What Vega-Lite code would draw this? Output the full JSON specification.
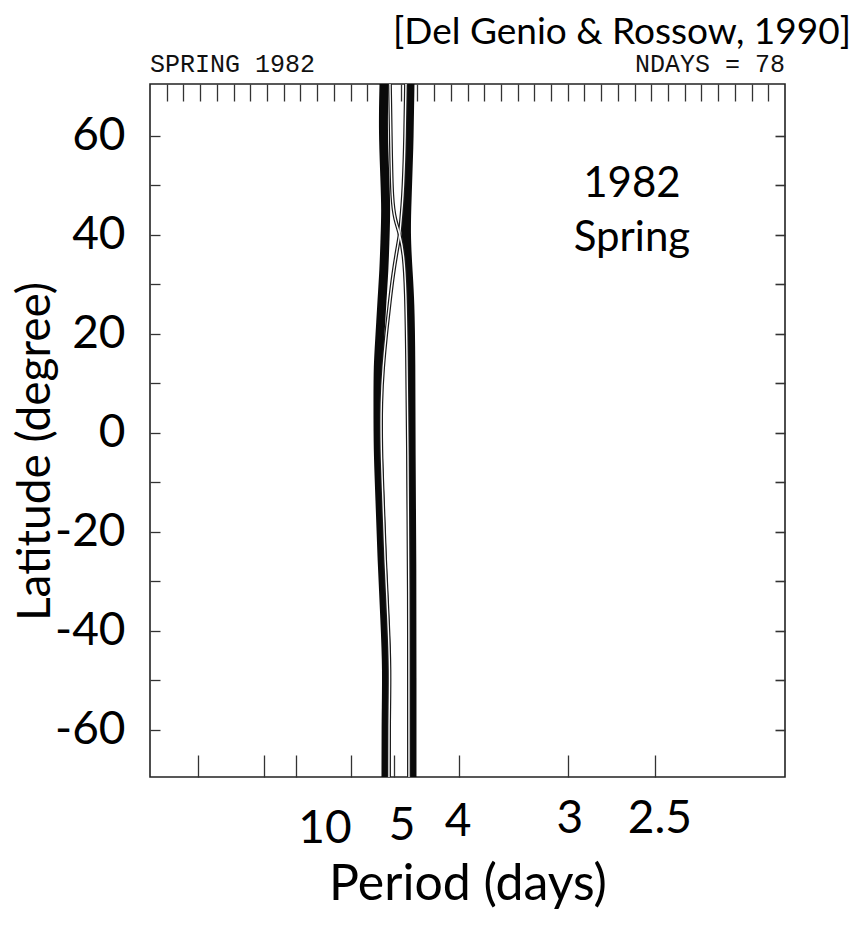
{
  "$schema": "https://vega.github.io/schema/vega-lite/v6.json",
  "width": 635,
  "height": 693,
  "autosize": {"type": "none"},
  "padding": {"left": 150, "top": 84, "right": 71, "bottom": 154},
  "background": "white",
  "config": {"view": {"stroke": "#222222", "strokeWidth": 1.6}, "font": "Lato"},
  "title": {"text": "[Del Genio & Rossow, 1990]", "anchor": "end", "frame": "group", "fontSize": 37, "font": "Lato", "fontWeight": "normal", "color": "black", "dx": 66, "offset": 0},
  "datasets": {
    "bands": [
      {"band": "L", "lat": 70.5, "period": 5.199},
      {"band": "L", "lat": 61.2, "period": 5.22},
      {"band": "L", "lat": 51.1, "period": 5.179},
      {"band": "L", "lat": 44.8, "period": 5.158},
      {"band": "L", "lat": 39.0, "period": 5.179},
      {"band": "L", "lat": 32.9, "period": 5.199},
      {"band": "L", "lat": 26.9, "period": 5.241},
      {"band": "L", "lat": 19.8, "period": 5.283},
      {"band": "L", "lat": 13.3, "period": 5.327},
      {"band": "L", "lat": 6.7, "period": 5.327},
      {"band": "L", "lat": -3.4, "period": 5.327},
      {"band": "L", "lat": -13.5, "period": 5.283},
      {"band": "L", "lat": -25.7, "period": 5.241},
      {"band": "L", "lat": -37.8, "period": 5.179},
      {"band": "L", "lat": -47.9, "period": 5.138},
      {"band": "L", "lat": -58.0, "period": 5.158},
      {"band": "L", "lat": -69.5, "period": 5.158},
      {"band": "R", "lat": 70.5, "period": 4.711},
      {"band": "R", "lat": 57.2, "period": 4.728},
      {"band": "R", "lat": 47.1, "period": 4.762},
      {"band": "R", "lat": 40.2, "period": 4.78},
      {"band": "R", "lat": 32.9, "period": 4.745},
      {"band": "R", "lat": 26.9, "period": 4.711},
      {"band": "R", "lat": 14.7, "period": 4.694},
      {"band": "R", "lat": -3.4, "period": 4.694},
      {"band": "R", "lat": -27.7, "period": 4.677},
      {"band": "R", "lat": -49.9, "period": 4.677},
      {"band": "R", "lat": -69.5, "period": 4.677}
    ],
    "thin": [
      {"line": "A", "lat": 70.5, "period": 5.078},
      {"line": "A", "lat": 57.2, "period": 5.058},
      {"line": "A", "lat": 47.1, "period": 5.039},
      {"line": "A", "lat": 43.0, "period": 4.981},
      {"line": "A", "lat": 40.2, "period": 4.887},
      {"line": "A", "lat": 35.9, "period": 4.815},
      {"line": "A", "lat": 28.9, "period": 4.78},
      {"line": "A", "lat": 16.8, "period": 4.762},
      {"line": "A", "lat": -3.4, "period": 4.745},
      {"line": "A", "lat": -30.0, "period": 4.728},
      {"line": "A", "lat": -69.5, "period": 4.728},
      {"line": "B", "lat": 70.5, "period": 4.78},
      {"line": "B", "lat": 57.2, "period": 4.797},
      {"line": "B", "lat": 47.1, "period": 4.833},
      {"line": "B", "lat": 43.0, "period": 4.869},
      {"line": "B", "lat": 40.2, "period": 4.887},
      {"line": "B", "lat": 37.0, "period": 4.943},
      {"line": "B", "lat": 31.9, "period": 5.019},
      {"line": "B", "lat": 26.9, "period": 5.078},
      {"line": "B", "lat": 19.8, "period": 5.158},
      {"line": "B", "lat": 13.3, "period": 5.22},
      {"line": "B", "lat": 6.7, "period": 5.262},
      {"line": "B", "lat": -3.4, "period": 5.262},
      {"line": "B", "lat": -13.5, "period": 5.22},
      {"line": "B", "lat": -25.7, "period": 5.179},
      {"line": "B", "lat": -37.8, "period": 5.117},
      {"line": "B", "lat": -47.9, "period": 5.078},
      {"line": "B", "lat": -58.0, "period": 5.098},
      {"line": "B", "lat": -69.5, "period": 5.098}
    ]
  },
  "layer": [
    {
      "data": {"name": "bands"},
      "mark": {"type": "line", "color": "#0a0a0a", "strokeWidth": 9, "interpolate": "basis", "strokeCap": "butt"},
      "encoding": {
        "x": {
          "field": "period", "type": "quantitative",
          "scale": {"type": "pow", "exponent": -1, "domain": [78, 2], "zero": false, "nice": false},
          "axis": {"orient": "bottom", "values": [20, 10, 8, 6, 5, 4, 3, 2.5], "labels": false, "tickSize": -22, "tickColor": "#333333", "tickWidth": 1.3, "domain": false, "grid": false,
            "title": "Period (days)", "titleFont": "Lato", "titleFontSize": 50, "titleFontWeight": "normal", "titleColor": "black", "titlePadding": 82}
        },
        "y": {
          "field": "lat", "type": "quantitative",
          "scale": {"domain": [-69.5, 70.5], "zero": false, "nice": false},
          "axis": {"orient": "left", "values": [-60, -50, -40, -30, -20, -10, 0, 10, 20, 30, 40, 50, 60], "tickSize": -10, "tickColor": "#333333", "tickWidth": 1.3, "domain": false, "grid": false,
            "labelExpr": "datum.value % 20 == 0 ? '' + datum.value : ''", "labelFont": "Lato", "labelFontSize": 46, "labelColor": "black", "labelPadding": 35,
            "title": "Latitude (degree)", "titleFont": "Lato", "titleFontSize": 46, "titleFontWeight": "normal", "titleColor": "black", "titlePadding": -5, "titleY": 367}
        },
        "detail": {"field": "band"},
        "order": {"field": "lat", "type": "quantitative"}
      }
    },
    {
      "data": {"name": "thin"},
      "mark": {"type": "line", "color": "#1a1a1a", "strokeWidth": 3.8, "interpolate": "basis"},
      "encoding": {
        "x": {
          "field": "period", "type": "quantitative",
          "axis": {"orient": "top", "values": [39, 26, 19.5, 15.6, 13, 11.142857, 9.75, 8.666667, 7.8, 7.090909, 6.5, 6, 5.571429, 5.2, 4.875, 4.588235, 4.333333, 4.105263, 3.9, 3.714286, 3.545455, 3.391304, 3.25, 3.12, 3, 2.888889, 2.785714, 2.689655, 2.6, 2.516129, 2.4375, 2.363636, 2.294118, 2.228571, 2.166667, 2.108108, 2.052632], "labels": false, "tickSize": -17, "tickColor": "#333333", "tickWidth": 1.3, "domain": false, "grid": false, "title": null}
        },
        "y": {
          "field": "lat", "type": "quantitative",
          "axis": {"orient": "right", "values": [-60, -50, -40, -30, -20, -10, 0, 10, 20, 30, 40, 50, 60], "labels": false, "tickSize": -10, "tickColor": "#333333", "tickWidth": 1.6, "domain": false, "grid": false, "title": null}
        },
        "detail": {"field": "line"},
        "order": {"field": "lat", "type": "quantitative"}
      }
    },
    {
      "data": {"name": "thin"},
      "mark": {"type": "line", "color": "white", "strokeWidth": 1.4, "interpolate": "basis"},
      "encoding": {
        "x": {"field": "period", "type": "quantitative", "axis": null},
        "y": {"field": "lat", "type": "quantitative", "axis": null},
        "detail": {"field": "line"},
        "order": {"field": "lat", "type": "quantitative"}
      }
    },
    {
      "data": {"values": [{"label": "SPRING 1982", "period": 78, "lat": 72.9}]},
      "mark": {"type": "text", "font": "Liberation Mono", "fontSize": 25, "align": "left", "baseline": "alphabetic", "color": "#111111"},
      "encoding": {
        "x": {"field": "period", "type": "quantitative", "axis": null},
        "y": {"field": "lat", "type": "quantitative", "axis": null},
        "text": {"field": "label"}
      }
    },
    {
      "data": {"values": [{"label": "NDAYS = 78", "period": 2, "lat": 72.9}]},
      "mark": {"type": "text", "font": "Liberation Mono", "fontSize": 25, "align": "right", "baseline": "alphabetic", "color": "#111111"},
      "encoding": {
        "x": {"field": "period", "type": "quantitative", "axis": null},
        "y": {"field": "lat", "type": "quantitative", "axis": null},
        "text": {"field": "label"}
      }
    },
    {
      "data": {"values": [
        {"label": "1982", "period": 2.614, "lat": 47.7},
        {"label": "Spring", "period": 2.614, "lat": 36.8}
      ]},
      "mark": {"type": "text", "font": "Lato", "fontSize": 42, "align": "center", "baseline": "alphabetic", "color": "black"},
      "encoding": {
        "x": {"field": "period", "type": "quantitative", "axis": null},
        "y": {"field": "lat", "type": "quantitative", "axis": null},
        "text": {"field": "label"}
      }
    },
    {
      "data": {"values": [
        {"label": "10", "period": 6.8, "lat": -82.8},
        {"label": "5", "period": 4.851, "lat": -82.2},
        {"label": "4", "period": 4.014, "lat": -81.4},
        {"label": "3", "period": 2.985, "lat": -80.8},
        {"label": "2.5", "period": 2.475, "lat": -80.8}
      ]},
      "mark": {"type": "text", "font": "Lato", "fontSize": 46, "align": "center", "baseline": "alphabetic", "color": "black"},
      "encoding": {
        "x": {"field": "period", "type": "quantitative", "axis": null},
        "y": {"field": "lat", "type": "quantitative", "axis": null},
        "text": {"field": "label"}
      }
    }
  ],
  "resolve": {"axis": {"x": "independent", "y": "independent"}}
}
